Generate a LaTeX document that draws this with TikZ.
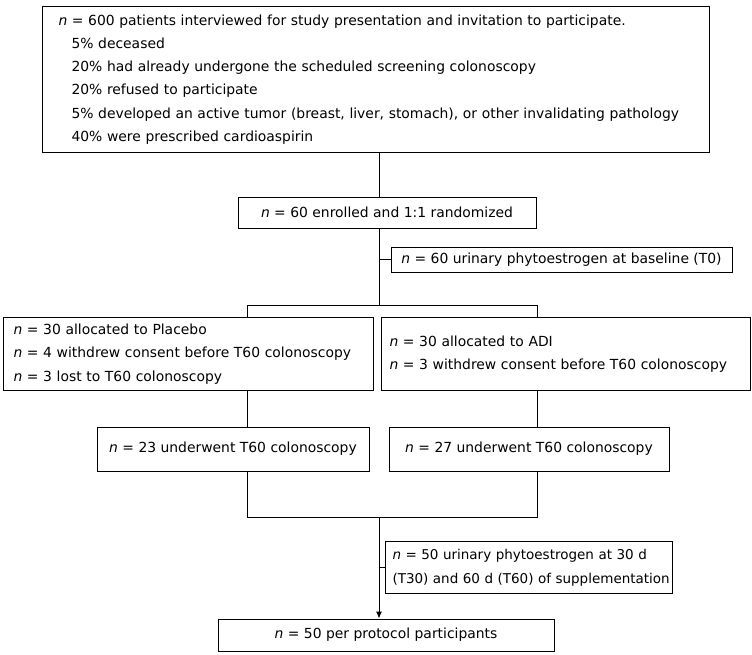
\documentclass[tikz,border=0pt]{standalone}
\usepackage{fontspec}
\setmainfont{DejaVu Sans}
\usetikzlibrary{arrows.meta}

\begin{document}
\begin{tikzpicture}[x=1pt,y=-1pt,line width=1pt,
	box/.style={draw,inner sep=2pt,font=\fontsize{13.9}{23.3}\selectfont},
	textbox/.style={box,anchor=north west,align=left},
	midbox/.style={box,align=center}]
		\useasboundingbox (0,0) rectangle (752,654);
		\node (screen) at (42,6)[textbox,inner xsep=16pt,text width=635pt,minimum height=146pt]{\mbox{\textit{n} = 600 patients interviewed for study presentation and invitation to participate.}\\
		\hspace*{13pt}5\% deceased\\
		\hspace*{13pt}20\% had already undergone the scheduled screening colonoscopy\\
		\hspace*{13pt}20\% refused to participate\\
		\hspace*{13pt}\mbox{5\% developed an active tumor (breast, liver, stomach), or other invalidating pathology}\\
		\hspace*{13pt}40\% were prescribed cardioaspirin};
		\node (enrol) at (387,212.5)[midbox,minimum width=298pt,minimum height=31pt]{\textit{n} = 60 enrolled and 1:1 randomized};
		\node (base) at (561.5,259.5)[midbox,minimum width=341pt,minimum height=25pt]{\textit{n} = 60 urinary phytoestrogen at baseline (T0)};
		\node (placebo) at (3,317)[textbox,inner xsep=10pt,text width=350pt,minimum height=73pt]{\textit{n} = 30 allocated to Placebo\\
		\textit{n} = 4 withdrew consent before T60 colonoscopy\\
		\textit{n} = 3 lost to T60 colonoscopy};
		\node (adi) at (381,317)[textbox,inner xsep=8pt,text width=353pt,minimum height=73pt]{\textit{n} = 30 allocated to ADI\\
		\textit{n} = 3 withdrew consent before T60 colonoscopy};
		\node (done23) at (233,449)[midbox,minimum width=272pt,minimum height=44pt]{\textit{n} = 23 underwent T60 colonoscopy};
		\node (done27) at (529,449)[midbox,minimum width=280pt,minimum height=44pt]{\textit{n} = 27 underwent T60 colonoscopy};
		\node (supp) at (385,541)[textbox,inner xsep=7pt,text width=273pt,minimum height=52pt,font=\fontsize{13.5}{24.4}\selectfont]{\mbox{\textit{n} = 50 urinary phytoestrogen at 30 d}\\
		\mbox{(T30) and 60 d (T60) of supplementation}};
		\node (final) at (386,635)[midbox,minimum width=336pt,minimum height=32pt]{\textit{n} = 50 per protocol participants};
		\coordinate (tk) at (379,0);
		\coordinate (split) at (379,305);
		\coordinate (lft) at (247,305);
		\coordinate (rgt) at (537,305);
		\coordinate (merge) at (379,517);
		\draw (screen.south -| tk) -- (enrol.north -| tk);
		\draw (enrol.south -| tk) -- (split);
		\draw (base.west) -- (base.west -| tk);
		\draw (placebo.north -| lft) -- (lft) -- (rgt) -- (adi.north -| rgt);
		\draw (placebo.south -| lft) -- (done23.north -| lft);
		\draw (adi.south -| rgt) -- (done27.north -| rgt);
		\draw (done23.south -| lft) |- (merge) -| (done27.south -| rgt);
		\draw[-{Latex[length=7pt,width=6pt]}] (merge) -- (final.north -| merge);
		\draw (supp.west) -- (supp.west -| merge);
\end{tikzpicture}
\end{document}
